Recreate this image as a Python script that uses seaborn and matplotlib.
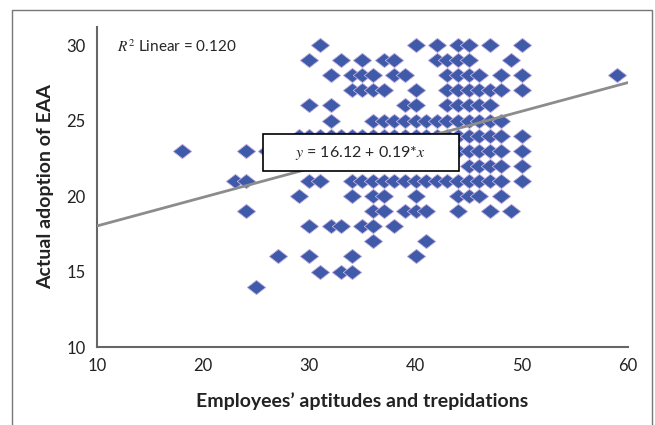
import numpy as np
import pandas as pd
import matplotlib
matplotlib.use("Agg")
from matplotlib import pyplot as plt
from matplotlib.patches import Rectangle
import seaborn as sns

# actual adoption of EAA (y) -> employees' aptitudes scores (x) at that level
adoption_levels = [30, 29, 28, 27, 26, 25, 24, 23, 22, 21, 20, 19, 18, 17, 16, 15, 14]
aptitudes_at_level = [
    [31, 40, 42, 44, 45, 47, 50],
    [30, 33, 35, 37, 38, 42, 43, 44, 45, 49],
    [32, 34, 35, 36, 38, 39, 43, 44, 45, 46, 48, 50, 59],
    [34, 35, 36, 37, 40, 43, 44, 45, 46, 47, 48, 50],
    [30, 32, 39, 40, 43, 44, 45, 46, 47],
    [32, 36, 37, 38, 39, 40, 41, 42, 43, 44, 45, 46, 47, 48],
    [29, 30, 31, 32, 33, 34, 35, 36, 37, 38, 39, 40, 41, 42, 43, 44, 45, 46, 47, 48, 50],
    [18, 24, 26, 30, 32, 34, 36, 38, 40, 42, 44, 45, 46, 47, 48, 50],
    [45, 46, 47, 48, 50],
    [23, 24, 30, 31, 34, 35, 36, 37, 38, 39, 40, 41, 42, 43, 44, 45, 46, 47, 48, 50],
    [29, 34, 36, 37, 40, 44, 45, 46, 48],
    [24, 36, 37, 39, 40, 41, 44, 47, 49],
    [30, 32, 33, 35, 36, 38],
    [36, 41],
    [27, 30, 34, 40],
    [31, 33, 34],
    [25],
]

fit_intercept = 16.12
fit_slope = 0.19
r_squared = 0.120
x_ticks = [10, 20, 30, 40, 50, 60]
y_ticks = [10, 15, 20, 25, 30]

rows = []
for level, xs in zip(adoption_levels, aptitudes_at_level):
    for xv in xs:
        rows.append((xv, level))
df = pd.DataFrame(rows, columns=["aptitude", "adoption"])

line_x = np.array([10, 60])
line_y = fit_intercept + fit_slope * line_x

sns.set_style("white")
plt.rcParams["font.family"] = ["Lato", "DejaVu Sans"]
plt.rcParams["mathtext.fontset"] = "stix"

fig = plt.figure(figsize=(6.55, 4.25), dpi=100)
ax = fig.add_axes([97 / 655, 1 - 347 / 425, (628 - 97) / 655, (347 - 27) / 425])

diamond = [(-1, 0), (0, 0.78), (1, 0), (0, -0.78), (-1, 0)]
sns.scatterplot(data=df, x="aptitude", y="adoption", marker=diamond, s=175,
                color="#3f5aa8", edgecolor="#c4b0e0", linewidth=0.6, ax=ax, zorder=2)
sns.lineplot(x=line_x, y=line_y, color="#8c8c8c", linewidth=2, ax=ax, zorder=3)

# equation box
ax.add_patch(Rectangle((25.6, 21.65), 18.5, 2.43, facecolor="white",
                       edgecolor="black", linewidth=1.2, zorder=4))
ax.text(34.8, 22.85, r"$y$ = 16.12 + 0.19*$x$", ha="center", va="center",
        fontsize=11.5, zorder=5)
ax.text(11.9, 29.9, r"$R^{\mathrm{2}}$ Linear = " + f"{r_squared:.3f}", ha="left", va="center",
        fontsize=11)

ax.set_xlim(10, 60)
ax.set_ylim(10, 31.2)
ax.set_xticks(x_ticks)
ax.set_yticks(y_ticks)
ax.set_xlabel("Employees\u2019 aptitudes and trepidations", fontsize=14, fontweight="bold",
              labelpad=13, color="#222222")
ax.set_ylabel("Actual adoption of EAA", fontsize=14, fontweight="bold", labelpad=9,
              color="#222222")
ax.tick_params(direction="out", length=5, width=1.2, color="#666666", labelsize=12,
               labelcolor="#222222", pad=3)
for side in ["top", "right"]:
    ax.spines[side].set_visible(False)
for side in ["left", "bottom"]:
    ax.spines[side].set_color("#666666")
    ax.spines[side].set_linewidth(1.5)

fig.patches.append(Rectangle((12 / 655, -0.1), (652 - 12) / 655, 1 - 10 / 425 + 0.1,
                             transform=fig.transFigure, fill=False,
                             edgecolor="#777777", linewidth=1))

fig.savefig("out.png", dpi=100)
